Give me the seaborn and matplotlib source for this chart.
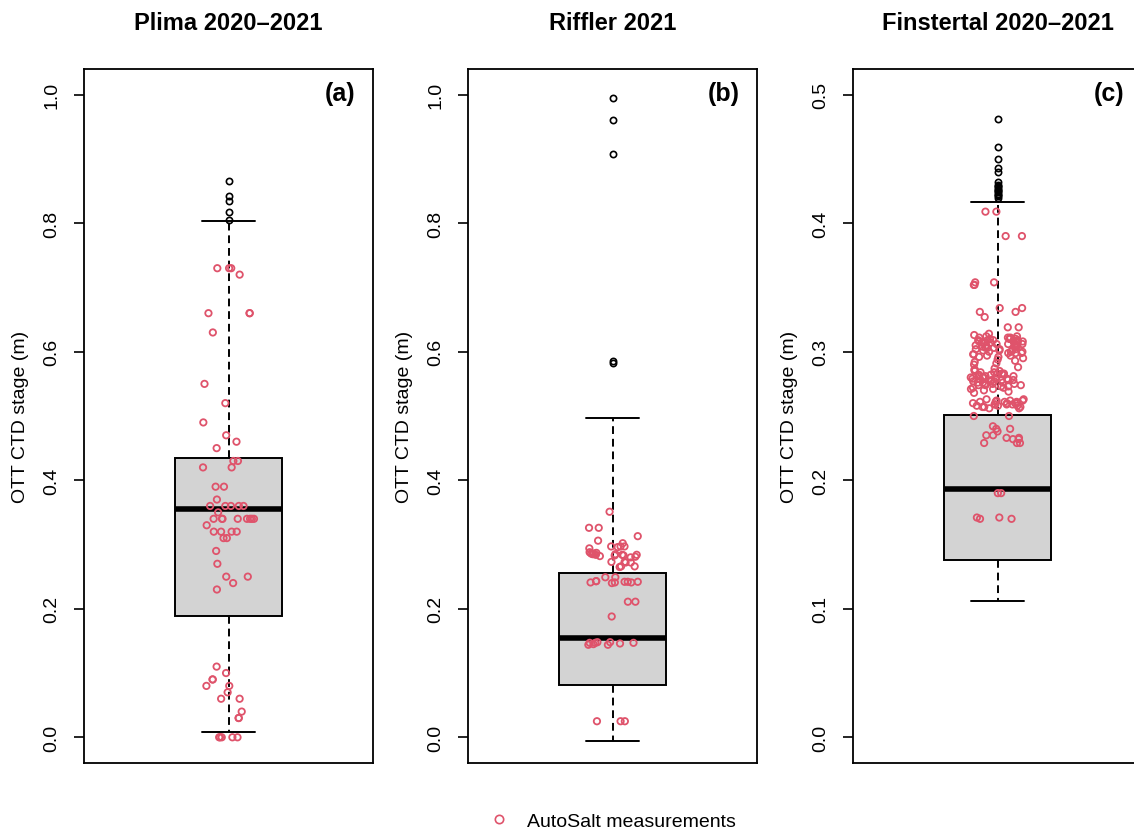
import numpy as np
import matplotlib
matplotlib.use("Agg")
import matplotlib.pyplot as plt
from matplotlib.lines import Line2D
import seaborn as sns

sns.set_style("ticks")
plt.rcParams["font.family"] = ["Liberation Sans", "DejaVu Sans"]
plt.rcParams["text.color"] = "black"
plt.rcParams["axes.labelcolor"] = "black"
plt.rcParams["ytick.color"] = "black"
plt.rcParams["xtick.color"] = "black"

titles = ["Plima 2020\u20132021", "Riffler 2021", "Finstertal 2020\u20132021"]
panel_tags = ["(a)", "(b)", "(c)"]
y_limits = [(0, 1.0), (0, 1.0), (0, 0.5)]
y_ticks = [[0.0, 0.2, 0.4, 0.6, 0.8, 1.0],
           [0.0, 0.2, 0.4, 0.6, 0.8, 1.0],
           [0.0, 0.1, 0.2, 0.3, 0.4, 0.5]]

# box statistics of the OTT CTD stage record (whislo, q1, median, q3, whishi)
plima_box = [0.009, 0.188, 0.355, 0.435, 0.804]
riffler_box = [-0.005, 0.081, 0.154, 0.256, 0.497]
finstertal_box = [0.106, 0.138, 0.193, 0.251, 0.4165]

plima_out = [0.865, 0.843, 0.834, 0.818, 0.805]
riffler_out = [0.995, 0.960, 0.907, 0.585, 0.583]
finstertal_out = [0.481, 0.459, 0.450, 0.443, 0.440, 0.432, 0.430, 0.429, 0.428,
                  0.427, 0.426, 0.425, 0.424, 0.423, 0.422, 0.421, 0.420]

# stage at the time of AutoSalt measurements
plima_salt = [0.73, 0.72, 0.73, 0.73, 0.66, 0.66, 0.66, 0.63, 0.55, 0.52, 0.49,
              0.47, 0.46, 0.45, 0.43, 0.43, 0.42, 0.42, 0.39, 0.39, 0.37,
              0.36, 0.36, 0.36, 0.36, 0.36, 0.35,
              0.34, 0.34, 0.34, 0.34, 0.34, 0.34, 0.34, 0.34, 0.33,
              0.32, 0.32, 0.32, 0.32, 0.31, 0.31, 0.29, 0.27, 0.25, 0.25,
              0.24, 0.23, 0.11, 0.10, 0.09, 0.09, 0.08, 0.08, 0.07, 0.06,
              0.06, 0.04, 0.03, 0.03, 0.00, 0.00, 0.00, 0.00, 0.00]
riffler_salt = [0.351, 0.326, 0.326, 0.313, 0.306, 0.302, 0.297, 0.297, 0.297,
                0.296, 0.294, 0.288, 0.287, 0.286, 0.286, 0.285, 0.285, 0.284,
                0.284, 0.284, 0.283, 0.283, 0.282, 0.281, 0.280, 0.273, 0.273,
                0.272, 0.272, 0.266, 0.266, 0.265, 0.249, 0.249, 0.243, 0.243,
                0.242, 0.242, 0.242, 0.241, 0.241, 0.241, 0.240, 0.211, 0.211,
                0.188, 0.148, 0.148, 0.147, 0.147, 0.147, 0.146, 0.145, 0.144,
                0.144, 0.025, 0.025, 0.025]
finstertal_salt = [
    0.409, 0.409, 0.390, 0.390, 0.354, 0.352, 0.352, 0.354, 0.334, 0.334,
    0.331, 0.331, 0.327, 0.319, 0.319,
    0.314, 0.313, 0.312, 0.312, 0.311, 0.311, 0.311, 0.310, 0.310, 0.310,
    0.310, 0.309, 0.309, 0.309, 0.309, 0.308, 0.308, 0.308, 0.308, 0.307,
    0.307, 0.307, 0.306, 0.306, 0.306, 0.306, 0.305, 0.305, 0.305, 0.305,
    0.304, 0.304, 0.304, 0.303, 0.303, 0.303, 0.302, 0.302, 0.302, 0.301,
    0.301, 0.301, 0.300, 0.300, 0.300, 0.299, 0.299, 0.299, 0.298, 0.298,
    0.297, 0.297, 0.296, 0.296, 0.295, 0.294, 0.293, 0.292, 0.291, 0.290,
    0.288, 0.287, 0.286, 0.286, 0.285, 0.285, 0.284, 0.284, 0.283, 0.283,
    0.283, 0.282, 0.282, 0.282, 0.281, 0.281, 0.281, 0.280, 0.280, 0.280,
    0.280, 0.279, 0.279, 0.279, 0.279, 0.278, 0.278, 0.278, 0.278, 0.277,
    0.277, 0.277, 0.276, 0.276, 0.276, 0.275, 0.275, 0.275, 0.274, 0.274,
    0.274, 0.273, 0.273, 0.272, 0.272, 0.271, 0.271, 0.270, 0.269, 0.268,
    0.263, 0.263, 0.262, 0.262, 0.262, 0.261, 0.261, 0.261, 0.261, 0.260,
    0.260, 0.260, 0.260, 0.259, 0.259, 0.259, 0.259, 0.258, 0.258, 0.258,
    0.257, 0.257, 0.257, 0.256, 0.256,
    0.250, 0.250, 0.242, 0.240, 0.240, 0.238, 0.235, 0.235, 0.233, 0.233,
    0.232, 0.232, 0.229, 0.229, 0.229, 0.190, 0.190, 0.171, 0.170, 0.170, 0.171]

boxes = [plima_box, riffler_box, finstertal_box]
outliers = [plima_out, riffler_out, finstertal_out]
salt = [plima_salt, riffler_salt, finstertal_salt]

red = "#DF536B"
np.random.seed(3)

fig = plt.figure(figsize=(11.34, 8.37), dpi=100)
lefts = [84, 468, 853]
for i in range(3):
    ax = fig.add_axes([lefts[i] / 1134, 73 / 837, 289 / 1134, 694 / 837])
    lo, q1, med, q3, hi = boxes[i]
    stats = dict(whislo=lo, q1=q1, med=med, q3=q3, whishi=hi, fliers=outliers[i])
    ax.bxp([stats], positions=[0], widths=0.4, patch_artist=True,
           boxprops=dict(facecolor="#D3D3D3", edgecolor="black", linewidth=1.4),
           medianprops=dict(color="black", linewidth=4, solid_capstyle="butt"),
           whiskerprops=dict(color="black", linewidth=1.4, linestyle=(0, (4, 2.5))),
           capprops=dict(color="black", linewidth=1.4),
           flierprops=dict(marker="o", markerfacecolor="none", markeredgecolor="black",
                           markersize=4.5, markeredgewidth=1.2))
    sns.stripplot(y=salt[i], ax=ax, jitter=0.1, size=4.6, color=red, zorder=5)
    pts = ax.collections[-1]
    pts.set_facecolor("none")
    pts.set_edgecolor(red)
    pts.set_linewidth(1.3)

    ymin, ymax = y_limits[i]
    pad = (ymax - ymin) * 0.04
    ax.set_ylim(ymin - pad, ymax + pad)
    ax.set_xlim(-0.54, 0.54)
    ax.set_xticks([])
    ax.set_xlabel("")
    ax.set_yticks(y_ticks[i])
    ax.set_yticklabels([f"{t:.1f}" for t in y_ticks[i]], rotation=90, va="center")
    ax.tick_params(axis="y", length=7, width=1.2, labelsize=14, pad=10,
                   color="black", labelcolor="black")
    for s in ax.spines.values():
        s.set_visible(True)
        s.set_linewidth(1.3)
        s.set_color("black")
    ax.set_ylabel("OTT CTD stage (m)", fontsize=14, color="black")
    ax.yaxis.set_label_coords(-0.19, 0.5)
    ax.set_title(titles[i], fontsize=17, fontweight="bold", pad=29, color="black")
    ax.text(0.94, 0.966, panel_tags[i], transform=ax.transAxes, ha="right",
            va="center", fontsize=18, fontweight="bold", color="black")

handle = Line2D([], [], marker="o", linestyle="none", markerfacecolor="none",
                markeredgecolor=red, markersize=6, markeredgewidth=1.2)
fig.legend(handles=[handle], labels=["AutoSalt measurements"], loc="center",
           bbox_to_anchor=(0.536, 0.018), frameon=False, fontsize=14,
           handletextpad=0.4, labelcolor="black")

fig.savefig("out.png", dpi=100)
